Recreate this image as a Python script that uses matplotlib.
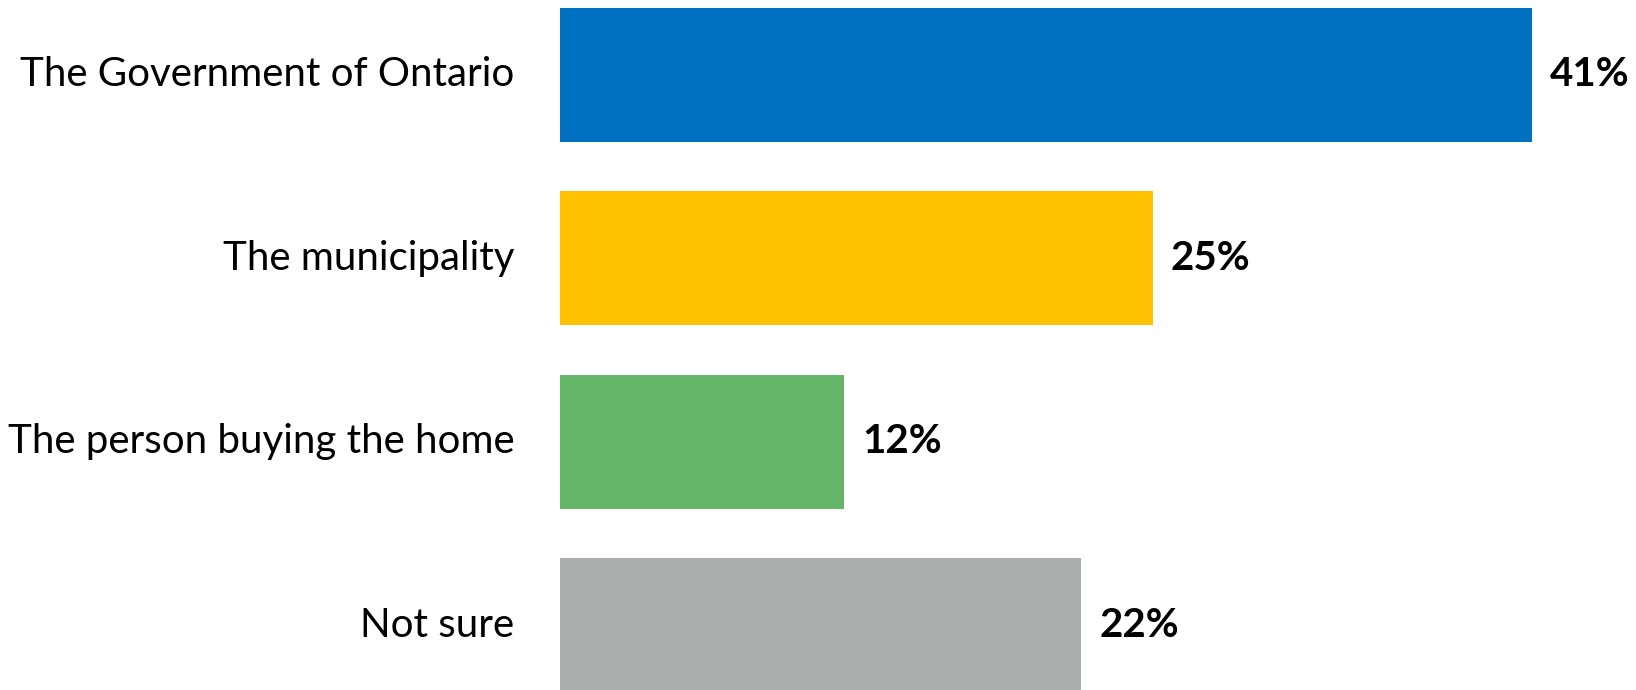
import matplotlib
matplotlib.use("Agg")
import matplotlib.pyplot as plt

categories = ["The Government of Ontario", "The municipality",
              "The person buying the home", "Not sure"]
values = [41, 25, 12, 22]
value_labels = ["41%", "25%", "12%", "22%"]
colors = ["#0070C0", "#FFC000", "#66B66A", "#A9ADAD"]

plt.rcParams["font.family"] = ["Lato", "DejaVu Sans"]

W, H = 1636, 690
fig = plt.figure(figsize=(W / 100, H / 100), dpi=100)
ax = fig.add_axes([560 / W, 0, 1 - 560 / W, 1])

pos = list(range(len(categories)))
ax.barh(pos, values, height=0.73, color=colors, edgecolor="none")
ax.set_xlim(0, 45.4)
ax.set_ylim(3.352, -0.408)
ax.axis("off")

for p, v, lab, cat in zip(pos, values, value_labels, categories):
    ax.annotate(lab, xy=(v, p), xytext=(13, 0), textcoords="offset points",
                ha="left", va="center", fontsize=29, fontweight="bold",
                color="black")
    ax.annotate(cat, xy=(0, p), xytext=(-33, 0), textcoords="offset points",
                ha="right", va="center", fontsize=29, color="black",
                annotation_clip=False)

fig.savefig("out.png", dpi=100)
